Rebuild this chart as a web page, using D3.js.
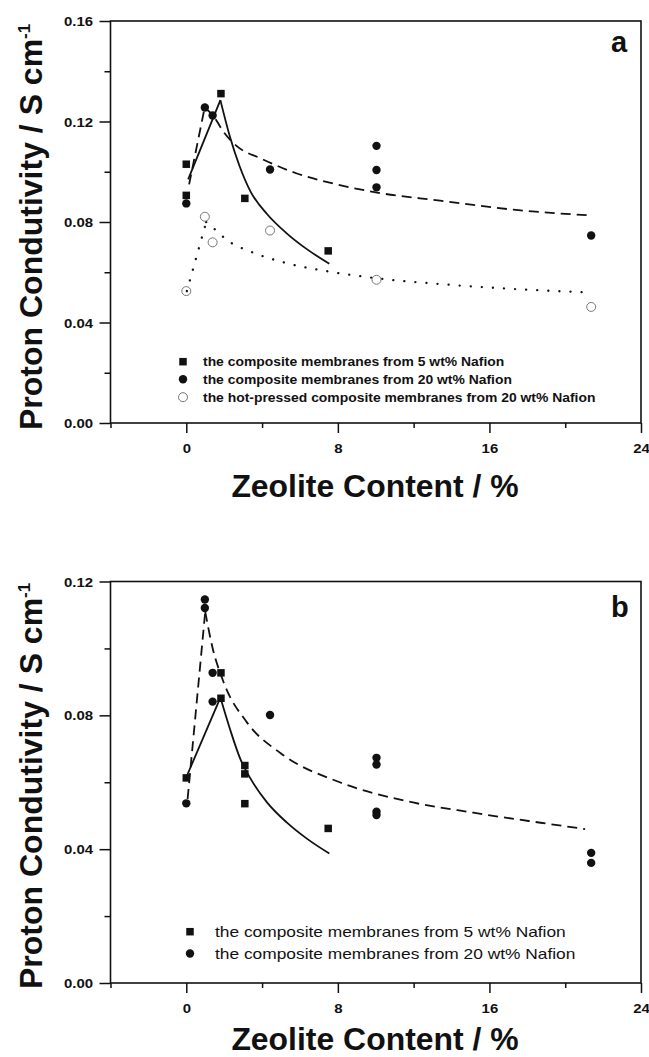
<!DOCTYPE html>
<html>
<head>
<meta charset="utf-8">
<title>Proton conductivity vs zeolite content</title>
<script src="https://cdn.jsdelivr.net/npm/d3@7"></script>
<style>
  body { margin: 0; background: #fff; }
  svg { display: block; font-family: Arial, "Liberation Sans", sans-serif; }
</style>
</head>
<body>
<svg id="chart" width="649" height="1057"></svg>
<script>
// shared x ticks (zeolite content, %)
var xMajor = [0, 8, 16, 24];
var xMinor = [-4, 4, 12, 20];

// ---- panel a ----
var aYMajor = [0, 0.04, 0.08, 0.12, 0.16];
var aYMinor = [0.02, 0.06, 0.10, 0.14];
var a5wt = [[0, 0.1030], [0, 0.0906], [1.83, 0.1311], [3.09, 0.0894], [7.49, 0.0685]];
var a20wt = [[0, 0.0874], [0.98, 0.1256], [1.39, 0.1224], [4.42, 0.1009],
             [10.04, 0.1103], [10.04, 0.1007], [10.04, 0.0938], [21.37, 0.0746]];
var aHot = [[0, 0.0525], [0.98, 0.0821], [1.39, 0.0719], [4.42, 0.0766], [10.04, 0.0570], [21.37, 0.0462]];
// fitted curves
var aFit5 = [[0.1, 0.097], [1.8, 0.1285], [2.3, 0.114], [2.8, 0.1025], [3.4, 0.092],
             [4.26, 0.0832], [5.3, 0.0755], [6.4, 0.069], [7.55, 0.0634]];
var aFit20 = [[0.15, 0.095], [0.97, 0.1255], [1.4, 0.1225], [2.0, 0.1155], [2.7, 0.11], [3.9, 0.1054],
              [5.8, 0.0994], [8.1, 0.0947], [10, 0.0918], [13.4, 0.0885], [17.4, 0.0848], [21.4, 0.0826]];
var aFitHot = [[0.03, 0.0525], [1.05, 0.080], [1.55, 0.0768], [2.15, 0.0728], [3.4, 0.0682], [5.3, 0.0636],
               [7.6, 0.0602], [10.06, 0.0576], [13.4, 0.0553], [17.4, 0.0533], [21.4, 0.0519]];
var aLegend = ["the composite membranes from 5 wt% Nafion",
               "the composite membranes from 20 wt% Nafion",
               "the hot-pressed composite membranes from 20 wt% Nafion"];

// ---- panel b ----
var bYMajor = [0, 0.04, 0.08, 0.12];
var bYMinor = [0.02, 0.06, 0.10];
var b5wt = [[0, 0.0613], [1.83, 0.0927], [1.83, 0.0851], [3.09, 0.0650], [3.09, 0.0625],
            [3.09, 0.0536], [7.49, 0.0462]];
var b20wt = [[0, 0.0537], [0.98, 0.1146], [0.98, 0.1121], [1.39, 0.0927], [1.39, 0.0841], [4.42, 0.0801],
             [10.04, 0.0673], [10.04, 0.0653], [10.04, 0.0512], [10.04, 0.0502], [21.37, 0.0389], [21.37, 0.0359]];
var bFit5 = [[0, 0.0615], [1.8, 0.0853], [2.3, 0.076], [2.85, 0.067], [3.4, 0.061],
             [4.26, 0.054], [5.3, 0.048], [6.4, 0.043], [7.55, 0.0387]];
var bFit20 = [[0.07, 0.055], [1.0, 0.111], [1.36, 0.1008], [1.97, 0.0899], [3.2, 0.0779], [5.0, 0.0686],
              [8.1, 0.06], [11.6, 0.0544], [15.15, 0.0509], [18.7, 0.0479], [21.05, 0.046]];
var bLegend = ["the composite membranes from 5 wt% Nafion",
               "the composite membranes from 20 wt% Nafion"];

var ink = "#111";
var svg = d3.select("#chart");

function drawPanel(p) {
  var x = d3.scaleLinear().domain([-4, 24]).range([110.5, 641]);
  var y = d3.scaleLinear().domain([0, p.yMax]).range([p.bottom, p.top]);
  var g = svg.append("g");

  // x axis: minor then major ticks
  g.append("g").attr("transform", "translate(0," + p.bottom + ")")
    .call(d3.axisBottom(x).tickValues(xMinor).tickSize(5).tickFormat(""))
    .call(s => s.select(".domain").remove());
  var xa = g.append("g").attr("transform", "translate(0," + p.bottom + ")")
    .call(d3.axisBottom(x).tickValues(xMajor).tickSize(10).tickFormat(d3.format("d")));
  xa.select(".domain").remove();
  xa.attr("font-size", null).attr("font-family", null);
  xa.selectAll("text").attr("y", 0).attr("dy", null)
    .attr("transform", "translate(0,30) scale(1.15,1)")
    .attr("font-size", 13).attr("font-weight", "bold").attr("fill", ink);

  // y axis
  g.append("g").attr("transform", "translate(110.5,0)")
    .call(d3.axisLeft(y).tickValues(p.yMinor).tickSize(6).tickFormat(""))
    .call(s => s.select(".domain").remove());
  var ya = g.append("g").attr("transform", "translate(110.5,0)")
    .call(d3.axisLeft(y).tickValues(p.yMajor).tickSize(11).tickFormat(d3.format(".2f")));
  ya.select(".domain").remove();
  ya.attr("font-size", null).attr("font-family", null);
  ya.selectAll("text").attr("x", 0).attr("dy", "0.35em")
    .attr("transform", "translate(-17.5,0) scale(1.15,1)")
    .attr("font-size", 13).attr("font-weight", "bold").attr("fill", ink);

  g.selectAll(".tick line").attr("stroke", ink).attr("stroke-width", 1.5);

  // frame
  g.append("rect")
    .attr("x", x(-4)).attr("y", p.top)
    .attr("width", x(24) - x(-4)).attr("height", p.bottom - p.top)
    .attr("fill", "none").attr("stroke", ink).attr("stroke-width", 1.6);

  // fitted curves: straight rise to the peak, smooth decay after it
  var line = d3.line().x(d => x(d[0])).y(d => y(d[1])).curve(d3.curveMonotoneX);
  p.fits.forEach(function (f) {
    var k = d3.maxIndex(f.pts, d => d[1]);
    [f.pts.slice(0, k + 1), f.pts.slice(k)].forEach(function (seg) {
      g.append("path").datum(seg).attr("d", line)
        .attr("fill", "none").attr("stroke", ink)
        .attr("stroke-width", f.w)
        .attr("stroke-linecap", f.cap || "butt")
        .attr("stroke-dasharray", f.dash || null);
    });
  });

  // markers
  function square(sel) {
    sel.append("rect").attr("width", 7.5).attr("height", 7.5)
      .attr("x", -3.75).attr("y", -3.75).attr("fill", ink);
  }
  function dot(sel) {
    sel.append("circle").attr("r", 4.2).attr("fill", ink);
  }
  function ring(sel) {
    sel.append("circle").attr("r", 4.5).attr("fill", "none")
      .attr("stroke", "#777").attr("stroke-width", 1);
  }
  var shapes = { square: square, dot: dot, ring: ring };

  p.series.forEach(function (s) {
    g.append("g").selectAll("g").data(s.data).join("g")
      .attr("transform", d => "translate(" + x(d[0]) + "," + y(d[1]) + ")")
      .call(shapes[s.shape]);
  });

  // legend
  p.legend.forEach(function (txt, i) {
    var cy = p.legY[i];
    g.append("g").attr("transform", "translate(" + p.legMx + "," + cy + ")")
      .call(shapes[p.series[i].shape]);
    g.append("text")
      .attr("transform", "translate(" + p.legTx + "," + (cy + p.legDy) + ") scale(" + p.legSx + ",1)")
      .attr("font-size", p.legFs).attr("font-weight", p.legFw).attr("fill", ink)
      .text(txt);
  });

  // panel letter
  g.append("text").attr("x", 611).attr("y", p.letterY)
    .attr("font-size", 29).attr("font-weight", "bold").attr("fill", ink)
    .text(p.letter);

  // axis titles
  g.append("text")
    .attr("transform", "translate(375," + p.xTitleY + ") scale(1.03,1)")
    .attr("text-anchor", "middle").attr("font-size", 31).attr("font-weight", "bold").attr("fill", ink)
    .text("Zeolite Content / %");

  var yt = g.append("text")
    .attr("transform", "translate(42," + p.yTitleStart + ") rotate(-90)")
    .attr("font-size", 32).attr("font-weight", "bold").attr("fill", ink);
  yt.append("tspan").text("Proton Condutivity / S cm");
  yt.append("tspan").attr("font-size", 17).attr("dy", -12).text("-1");
}

drawPanel({
  top: 21, bottom: 423, yMax: 0.16, yMajor: aYMajor, yMinor: aYMinor,
  fits: [
    { pts: aFit5, w: 1.8 },
    { pts: aFit20, w: 1.8, dash: "10,6" },
    { pts: aFitHot, w: 2.3, dash: "0.1,11", cap: "round" }
  ],
  series: [
    { data: a5wt, shape: "square" },
    { data: a20wt, shape: "dot" },
    { data: aHot, shape: "ring" }
  ],
  legend: aLegend, legY: [361.7, 379.3, 397.2], legMx: 183, legTx: 203, legDy: 4.6,
  legFs: 13, legFw: "bold", legSx: 1.07,
  letter: "a", letterY: 52, xTitleY: 497, yTitleStart: 430
});

drawPanel({
  top: 581.5, bottom: 983, yMax: 0.12, yMajor: bYMajor, yMinor: bYMinor,
  fits: [
    { pts: bFit5, w: 1.8 },
    { pts: bFit20, w: 1.8, dash: "10,6" }
  ],
  series: [
    { data: b5wt, shape: "square" },
    { data: b20wt, shape: "dot" }
  ],
  legend: bLegend, legY: [931.7, 953.5], legMx: 190, legTx: 215, legDy: 5,
  legFs: 14, legFw: "normal", legSx: 1.24,
  letter: "b", letterY: 617, xTitleY: 1050, yTitleStart: 989
});
</script>
</body>
</html>
